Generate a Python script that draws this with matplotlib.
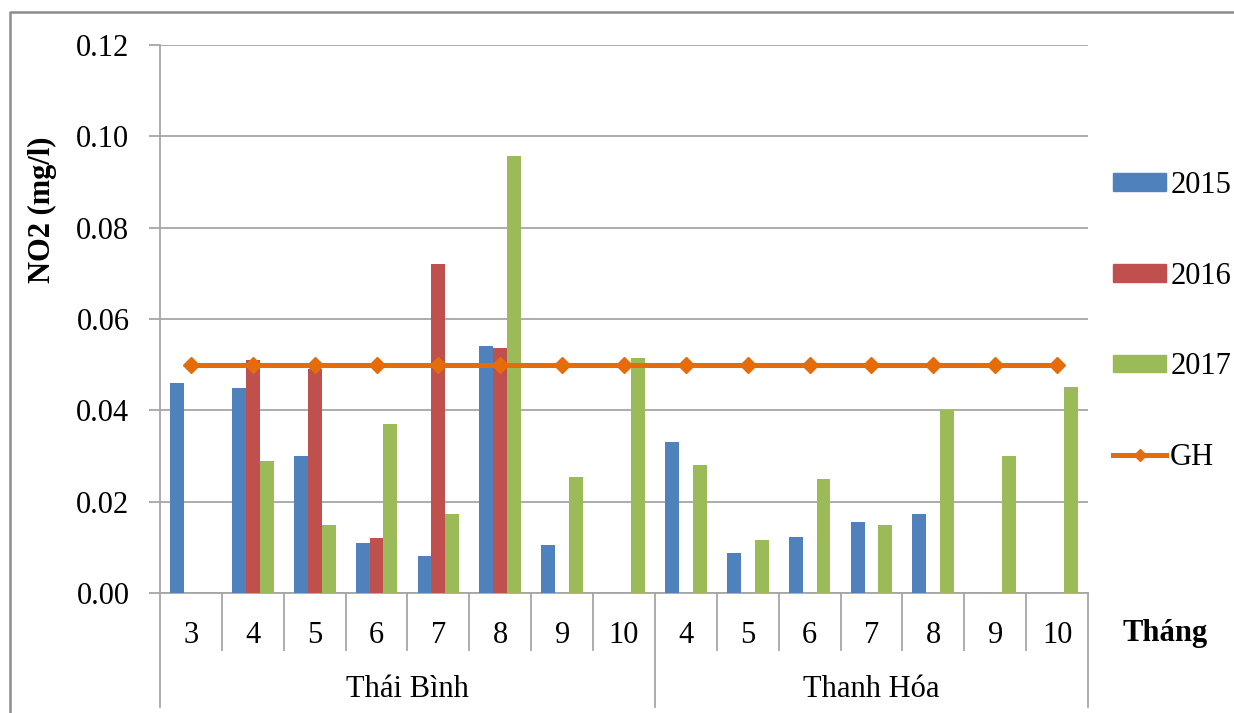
from matplotlib import pyplot as plt
from matplotlib.lines import Line2D
from matplotlib.patches import Patch
import matplotlib.transforms as mtransforms
import numpy as np

plt.rcParams['font.family'] = ['Liberation Serif', 'DejaVu Serif']

# data
provinces = ['Thái Bình', 'Thanh Hóa']
months = ['3', '4', '5', '6', '7', '8', '9', '10',
          '4', '5', '6', '7', '8', '9', '10']
group_sizes = [8, 7]

no2_2015 = [0.046, 0.045, 0.030, 0.011, 0.008, 0.054, 0.0105, np.nan,
            0.033, 0.0087, 0.0123, 0.0156, 0.0173, np.nan, np.nan]
no2_2016 = [np.nan, 0.051, 0.049, 0.012, 0.072, 0.0537, np.nan, np.nan,
            np.nan, np.nan, np.nan, np.nan, np.nan, np.nan, np.nan]
no2_2017 = [np.nan, 0.029, 0.015, 0.037, 0.0172, 0.0958, 0.0255, 0.0514,
            0.028, 0.0115, 0.025, 0.0149, 0.040, 0.030, 0.0452]
gh_limit = [0.05] * 15

series = ['2015', '2016', '2017']
colors = ['#4F81BD', '#C0504D', '#9BBB59']
gh_color = '#E46C0A'
grid_color = '#A6A6A6'

fig = plt.figure(figsize=(12.34, 7.13), dpi=100)
ax = fig.add_axes([160 / 1234, 1 - 593 / 713, 928 / 1234, 548 / 713])

x = np.arange(len(months))
width = 0.225

# plot bars
for k, (vals, col) in enumerate(zip([no2_2015, no2_2016, no2_2017], colors)):
    ax.bar(x + (k - 1) * width, vals, width, color=col, zorder=3)

# plot limit line
ax.plot(x, gh_limit, color=gh_color, lw=3.6, marker='D', ms=8,
        zorder=4, solid_capstyle='round')

# axis limits
ax.set_xlim(-0.5, len(months) - 0.5)
ax.set_ylim(0, 0.12)

# grid lines |--|--|--|
ax.set_yticks(np.arange(0, 0.121, 0.02))
ax.set_yticklabels(['%.2f' % v for v in np.arange(0, 0.121, 0.02)], fontsize=22)
ax.yaxis.grid(True, color=grid_color, lw=1.3, zorder=0)
ax.tick_params(axis='y', length=8, width=1.3, color=grid_color, pad=14)
ax.set_xticks([])
for side in ['top', 'right']:
    ax.spines[side].set_visible(False)
for side in ['left', 'bottom']:
    ax.spines[side].set_color(grid_color)
    ax.spines[side].set_linewidth(1.3)

# category axis: months and provinces
trans = mtransforms.blended_transform_factory(ax.transData, ax.transAxes)
bounds = np.cumsum([0] + group_sizes) - 0.5
for xi in np.arange(-0.5, len(months) + 0.5, 1.0):
    depth = -0.208 if xi in bounds else -0.104
    ax.add_line(Line2D([xi, xi], [0, depth], transform=trans, color=grid_color,
                       lw=1.3, clip_on=False))
for xi, lab in zip(x, months):
    ax.text(xi, -0.077, lab, transform=trans, ha='center', va='center',
            fontsize=22)
for i, name in enumerate(provinces):
    ax.text((bounds[i] + bounds[i + 1]) / 2, -0.177, name, transform=trans,
            ha='center', va='center', fontsize=22)

# axis labels
fig.text(1165 / 1234, 1 - 633 / 713, 'Tháng', ha='center', va='center',
         fontsize=22, fontweight='bold')
fig.text(42 / 1234, 1 - 210 / 713, 'NO2 (mg/l)', ha='center', va='center',
         rotation=90, fontsize=22, fontweight='bold')

# legend
handles = [Patch(color=c) for c in colors]
handles.append(Line2D([], [], color=gh_color, lw=3.6, marker='D', ms=6))
fig.legend(handles, series + ['GH'], loc='upper left',
           bbox_to_anchor=(1113 / 1234, 1 - 171 / 713), frameon=False,
           fontsize=22, borderpad=0, borderaxespad=0, labelspacing=2.02,
           handlelength=1.75, handleheight=0.5, handletextpad=0.12)

# outer border
fig.add_artist(Line2D([10 / 1234, 10 / 1234, 1], [0, 1 - 12 / 713, 1 - 12 / 713],
                      transform=fig.transFigure, color='#8C8C8C', lw=1.8))

# save figure
fig.savefig('out.png', dpi=100)
